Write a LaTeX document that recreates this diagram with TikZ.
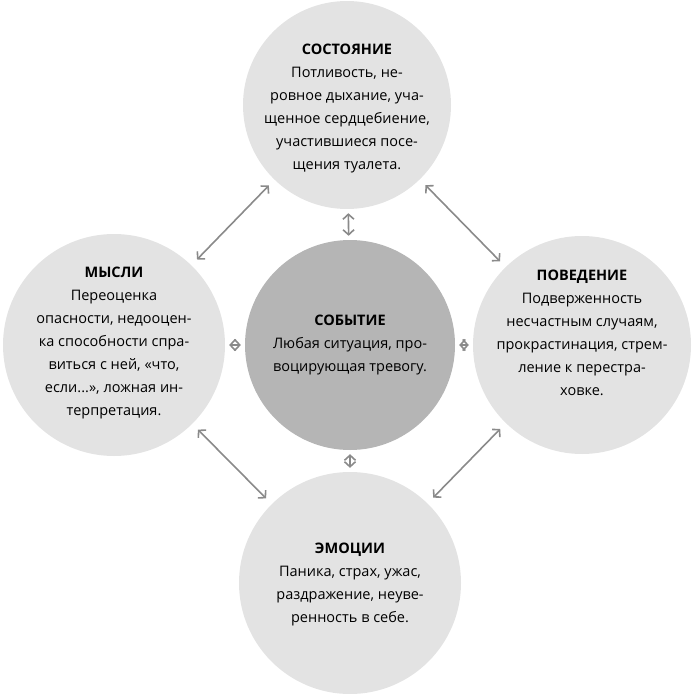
\documentclass[tikz,border=0pt]{standalone}
\usepackage{fontspec}
\setmainfont{Open Sans}
\usetikzlibrary{arrows.meta}
\definecolor{outerc}{HTML}{E3E3E3}
\definecolor{innerc}{HTML}{B5B5B5}
\definecolor{arr}{HTML}{8A8A8A}
\begin{document}
\begin{tikzpicture}[x=1bp,y=-1bp,
  circ/.style={circle,inner sep=0pt,fill=outerc},
  txt/.style={align=center,font=\fontsize{14.5bp}{23bp}\selectfont},
  link/.style={draw=arr,line width=1.6bp,{Straight Barb[width=11bp,length=5bp]}-{Straight Barb[width=11bp,length=5bp]},shorten >=4bp,shorten <=4bp}]
\useasboundingbox (0,0) rectangle (692,694);
\node[circ,minimum size=208bp] (top) at (347,105) {};
\node[circ,fill=innerc,minimum size=210bp] (mid) at (350,345) {};
\node[circ,minimum size=222bp] (left) at (114,345) {};
\node[circ,minimum size=218bp] (right) at (582,345) {};
\node[circ,minimum size=222bp] (bot) at (350,583) {};
\node[txt] (ttop) at (347,108) {\textbf{СОСТОЯНИЕ}\\Потливость, не-\\ровное дыхание, уча-\\щенное сердцебиение,\\участившиеся посе-\\щения туалета.};
\node[txt] (tmid) at (350,345) {\textbf{СОБЫТИЕ}\\Любая ситуация, про-\\воцирующая тревогу.};
\node[txt] (tleft) at (114,343) {\textbf{МЫСЛИ}\\Переоценка\\опасности, недооцен-\\ка способности спра-\\виться с ней, «что,\\если...», ложная ин-\\терпретация.};
\node[txt] (tright) at (582,333) {\textbf{ПОВЕДЕНИЕ}\\Подверженность\\несчастным случаям,\\прокрастинация, стрем-\\ление к перестра-\\ховке.};
\node[txt] (tbot) at (350,584) {\textbf{ЭМОЦИИ}\\Паника, страх, ужас,\\раздражение, неуве-\\ренность в себе.};
\draw[link] (top) -- (mid);
\draw[link] (mid) -- (bot);
\draw[link] (left) -- (mid);
\draw[link] (mid) -- (right);
\draw[link,shorten >=8bp,shorten <=8bp] (top) -- (left);
\draw[link,shorten >=8bp,shorten <=8bp] (top) -- (right);
\draw[link,shorten >=8bp,shorten <=8bp] (left) -- (bot);
\draw[link,shorten >=8bp,shorten <=8bp] (right) -- (bot);
\end{tikzpicture}
\end{document}
